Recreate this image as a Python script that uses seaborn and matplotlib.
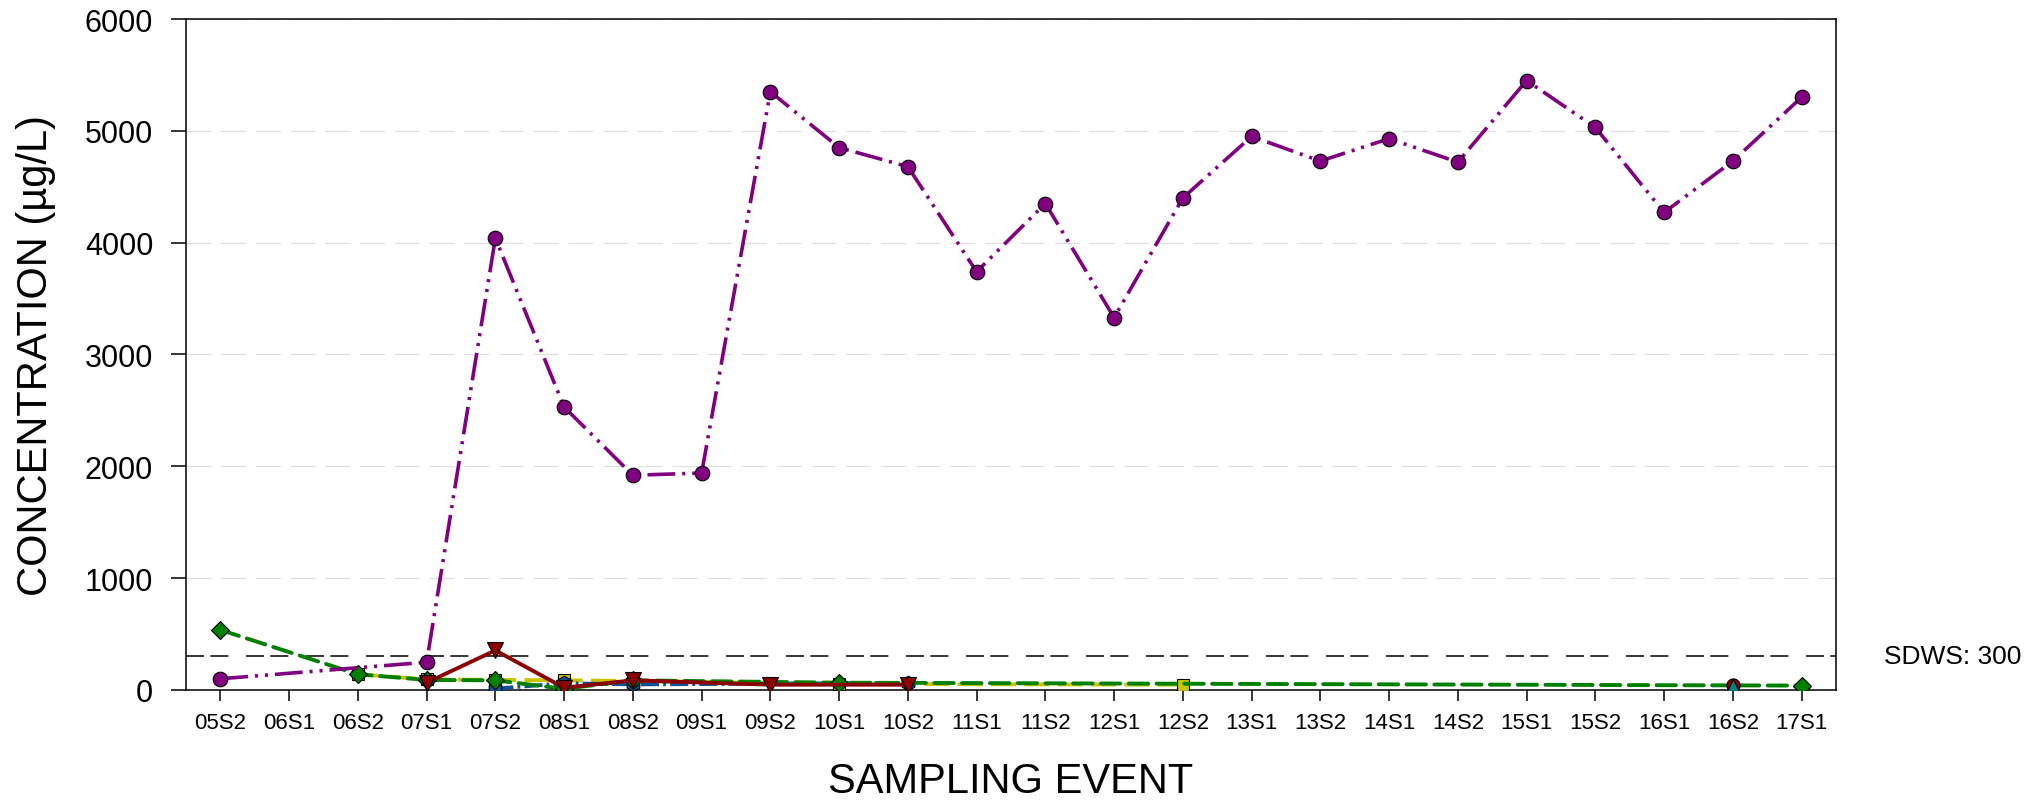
import matplotlib
matplotlib.use('Agg')
import matplotlib.pyplot as plt
import numpy as np
import pandas as pd
import seaborn as sns

nan = np.nan

events = ['05S2', '06S1', '06S2', '07S1', '07S2', '08S1', '08S2', '09S1', '09S2', '10S1',
          '10S2', '11S1', '11S2', '12S1', '12S2', '13S1', '13S2', '14S1', '14S2', '15S1',
          '15S2', '16S1', '16S2', '17S1']

purple_vals = [100, nan, nan, 248, 4040, 2530, 1920, 1940, 5350, 4850,
               4680, 3740, 4350, 3330, 4400, 4950, 4730, 4930, 4720, 5450,
               5030, 4270, 4730, 5300]
green_vals = [537, nan, 140, 90, 86, 10, 86, nan, nan, 65,
              nan, nan, nan, nan, nan, nan, nan, nan, nan, nan,
              nan, nan, nan, 39]
yellow_vals = [nan, nan, 140, 95, 90, 86, 80, nan, nan, 54,
               nan, nan, nan, nan, 47, nan, nan, nan, nan, nan,
               nan, nan, nan, nan]
blue_vals = [nan, nan, nan, nan, 12, 60, 50, nan, nan, nan,
             62, nan, nan, nan, nan, nan, nan, nan, nan, nan,
             nan, nan, nan, nan]
red_vals = [nan, nan, nan, 65, 354, 20, 86, nan, 47, nan,
            47, nan, nan, nan, nan, nan, nan, nan, nan, nan,
            nan, nan, nan, nan]
maroon_vals = [nan] * 22 + [46, nan]
teal_vals = [nan] * 22 + [42, nan]

sdws = 300
yticks = [0, 1000, 2000, 3000, 4000, 5000, 6000]

sns.set_theme(style='white')
plt.rcParams['font.family'] = ['Liberation Sans', 'DejaVu Sans']
plt.rcParams['lines.scale_dashes'] = False

fig = plt.figure(figsize=(20.35, 8.04), dpi=100)
ax = fig.add_axes([0.0914, 0.1406, 0.8108, 0.8345])


def draw(vals, color, ls, lw, marker, ms, z, cap='butt'):
    df = pd.DataFrame({'x': np.arange(len(events)), 'y': vals}).dropna()
    sns.lineplot(data=df, x='x', y='y', ax=ax, color=color, linestyle=ls, linewidth=lw,
                 marker=marker, markersize=ms, markeredgecolor='black',
                 markeredgewidth=0.8, zorder=z, sort=False, estimator=None,
                 errorbar=None, dash_capstyle=cap)


draw(yellow_vals, '#c8c400', (0, (18, 6)), 2.8, 's', 8.5, 3)
draw(blue_vals, '#12509a', (0, (13, 3, 2, 3)), 2.8, 'h', 10.5, 4)
draw(green_vals, '#008000', (0, (14, 6)), 2.8, 'D', 9.5, 5, cap='round')
draw(red_vals, '#8b0000', '-', 2.8, 'v', 11, 6)
draw(purple_vals, '#800080', (0, (20, 5, 2.2, 5, 2.2, 5)), 2.6, 'o', 10.5, 7)
draw(maroon_vals, '#8b0000', 'none', 1, 'o', 9.5, 8)
draw(teal_vals, '#008080', 'none', 1, '^', 9, 9)

ax.axhline(sdws, color='black', linewidth=1.1, linestyle=(0, (13, 4.5, 13, 12.7)), zorder=2)
ax.text(1.029, sdws, 'SDWS: 300', transform=ax.get_yaxis_transform(),
        ha='left', va='center', fontsize=19, color='black')

ax.set_xlim(-0.5, 23.5)
ax.set_ylim(0, 6000)
ax.set_xticks(range(len(events)))
ax.set_xticklabels(events)
ax.set_yticks(yticks)

ax.yaxis.grid(True, color='#e0e0e0', linestyle=(0, (18, 7)), linewidth=0.9)
ax.xaxis.grid(False)
ax.set_axisbelow(True)

for s in ax.spines.values():
    s.set_visible(True)
    s.set_color('black')
    s.set_linewidth(1.1)

ax.tick_params(axis='y', which='major', direction='out', left=True, length=10.6,
               width=1.1, color='black', labelsize=22, pad=13, labelcolor='black')
ax.tick_params(axis='x', which='major', direction='out', bottom=True, length=8,
               width=1.1, color='black', labelsize=16, pad=8, labelcolor='black')

ax.set_xlabel('SAMPLING EVENT', fontsize=30, color='black', labelpad=20)
ax.set_ylabel('CONCENTRATION (µg/L)', fontsize=30, color='black')
ax.yaxis.set_label_coords(-0.079, 0.5)

fig.savefig('out.png', dpi=100)
